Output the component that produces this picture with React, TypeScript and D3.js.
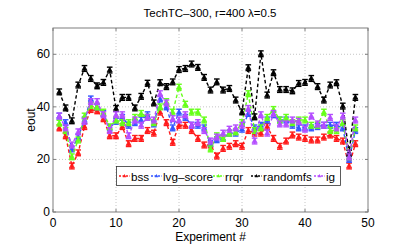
import { useEffect, useRef } from 'react';
import * as d3 from 'd3';

// experiment index 1..48
const experiments = d3.range(1, 49);

const bss = [32, 29, 17.5, 22.5, 32.5, 39, 38.5, 35.5, 29, 29, 32.5, 26, 28, 28, 31, 30, 38, 34, 26.5, 33, 33, 31, 28, 25.5, 25.5, 21.3, 24.2, 25, 26, 25, 31, 30, 30, 32.5, 28, 25, 27, 29.3, 28.5, 28, 27.4, 27.4, 28.5, 29.3, 28, 27, 17.5, 26];
const lvgScore = [36.5, 34, 24, 28.5, 35, 43, 40, 37.5, 32, 34.5, 36, 33, 34, 35, 37, 33.5, 43, 40, 32, 38, 36, 33, 33, 32, 26, 27.5, 28, 30, 30, 31.5, 37.5, 32, 33, 35, 37, 35, 35, 33, 32, 32, 32, 32.5, 33, 33, 33, 32, 20, 31];
const rrqr = [33.8, 31, 21, 27.4, 36.5, 40.5, 40, 38, 32.4, 35, 34, 34, 36, 37.5, 36, 34, 40, 42, 38, 47.5, 41, 38, 38, 35, 24, 29, 28, 30, 30.5, 34, 45, 31, 32, 36, 39, 35, 36, 34, 35, 35, 33, 33, 38, 31, 31, 34, 21, 32];
const randomfs = [45.7, 39.6, 34.7, 48.3, 54.6, 50.8, 48, 49.3, 54, 39.4, 43.6, 43.6, 39.6, 44, 49, 41.5, 49.2, 47.7, 49.5, 54.2, 54.6, 56.3, 55, 51.2, 46.4, 49.5, 46.4, 47, 42.6, 38.1, 54.9, 36.2, 60.2, 44.5, 53, 46.6, 46.6, 46.1, 48.9, 49.3, 50.8, 47.7, 42.6, 48.3, 49.2, 40.3, 22.4, 43.6];
const ig = [36.5, 32, 25.5, 30.5, 34.5, 42, 42, 37, 31, 37, 37, 29, 35, 33, 36, 35, 45, 41.5, 35.5, 35, 37, 33, 34, 31, 27, 28.5, 30, 31.5, 32, 33, 39.4, 27, 37, 30, 37.5, 33.5, 33.5, 35, 34.5, 31.5, 36.5, 33.5, 33, 36, 32, 36.5, 21, 35];

const seriesNames = ['bss', 'lvg\u2013score', 'rrqr', 'randomfs', 'ig'];
const seriesColors = ['#ff1a1a', '#3355ff', '#66ff1a', '#000000', '#b44dff'];
const seriesValues = [bss, lvgScore, rrqr, randomfs, ig];
const errHalf = 1.1;

const xTicks = [0, 10, 20, 30, 40, 50];
const yTicks = [0, 20, 40, 60];

export default function App() {
  const svgRef = useRef<SVGSVGElement>(null);

  useEffect(() => {
    if (!svgRef.current) return;
    d3.select(svgRef.current).selectAll('*').remove();

    const width = 407;
    const height = 245;
    const margin = { top: 28, right: 39, bottom: 33, left: 53 };
    const font = 'Liberation Sans, Arial, sans-serif';

    const svg = d3.select(svgRef.current)
      .attr('width', width)
      .attr('height', height);

    const x = d3.scaleLinear().domain([0, 50]).range([margin.left, width - margin.right]);
    const y = d3.scaleLinear().domain([0, 70]).range([height - margin.bottom, margin.top]);

    svg.append('rect')
      .attr('width', width)
      .attr('height', height)
      .attr('fill', '#ffffff');

    // grid
    const grid = svg.append('g')
      .attr('stroke', '#b8b8b8')
      .attr('stroke-width', 0.8)
      .attr('stroke-dasharray', '1,2');
    xTicks.slice(1, -1).forEach(t => {
      grid.append('line')
        .attr('x1', x(t)).attr('x2', x(t))
        .attr('y1', y(0)).attr('y2', y(70));
    });
    yTicks.slice(1).forEach(t => {
      grid.append('line')
        .attr('x1', x(0)).attr('x2', x(50))
        .attr('y1', y(t)).attr('y2', y(t));
    });

    // series
    const line = d3.line<number>()
      .x((_, i) => x(experiments[i]))
      .y(d => y(d));

    seriesValues.forEach((vals, s) => {
      const color = seriesColors[s];
      const g = svg.append('g');
      g.append('path')
        .datum(vals)
        .attr('d', line)
        .attr('fill', 'none')
        .attr('stroke', color)
        .attr('stroke-width', 1.4)
        .attr('stroke-dasharray', '3.5,2.5');

      vals.forEach((v, i) => {
        const cx = x(experiments[i]);
        const yTop = y(v + errHalf);
        const yBot = y(v - errHalf);
        g.append('line')
          .attr('x1', cx).attr('x2', cx)
          .attr('y1', yTop).attr('y2', yBot)
          .attr('stroke', color).attr('stroke-width', 1.4);
        [yTop, yBot].forEach(yy => {
          g.append('line')
            .attr('x1', cx - 2.8).attr('x2', cx + 2.8)
            .attr('y1', yy).attr('y2', yy)
            .attr('stroke', color).attr('stroke-width', 1.4);
        });
        const cy = y(v);
        g.append('path')
          .attr('d', `M${cx},${cy - 2.6}L${cx + 2.5},${cy + 1.8}L${cx - 2.5},${cy + 1.8}Z`)
          .attr('fill', color)
          .attr('stroke', color)
          .attr('stroke-width', 0.8);
      });
    });

    // axes box
    svg.append('rect')
      .attr('x', x(0)).attr('y', y(70))
      .attr('width', x(50) - x(0))
      .attr('height', y(0) - y(70))
      .attr('fill', 'none')
      .attr('stroke', '#7f7f7f')
      .attr('stroke-width', 1);

    const ticks = svg.append('g').attr('stroke', '#7f7f7f').attr('stroke-width', 1);
    xTicks.forEach(t => {
      ticks.append('line').attr('x1', x(t)).attr('x2', x(t)).attr('y1', y(0)).attr('y2', y(0) - 3);
      ticks.append('line').attr('x1', x(t)).attr('x2', x(t)).attr('y1', y(70)).attr('y2', y(70) + 3);
    });
    yTicks.forEach(t => {
      ticks.append('line').attr('x1', x(0)).attr('x2', x(0) + 3).attr('y1', y(t)).attr('y2', y(t));
      ticks.append('line').attr('x1', x(50)).attr('x2', x(50) - 3).attr('y1', y(t)).attr('y2', y(t));
    });

    // tick labels
    xTicks.forEach(t => {
      svg.append('text')
        .attr('x', x(t)).attr('y', y(0) + 15)
        .attr('text-anchor', 'middle')
        .attr('font-family', font).attr('font-size', 12)
        .text(t);
    });
    yTicks.forEach(t => {
      svg.append('text')
        .attr('x', x(0) - 3).attr('y', y(t) + 4)
        .attr('text-anchor', 'end')
        .attr('font-family', font).attr('font-size', 12)
        .text(t);
    });

    svg.append('text')
      .attr('x', (x(0) + x(50)) / 2).attr('y', 241)
      .attr('text-anchor', 'middle')
      .attr('font-family', font).attr('font-size', 12)
      .text('Experiment #');

    svg.append('text')
      .attr('transform', `translate(35,${(y(0) + y(70)) / 2}) rotate(-90)`)
      .attr('text-anchor', 'middle')
      .attr('font-family', font).attr('font-size', 12)
      .text('eout');

    svg.append('text')
      .attr('x', 210).attr('y', 17)
      .attr('text-anchor', 'middle')
      .attr('font-family', font).attr('font-size', 11.5)
      .text('TechTC\u2013300, r=400 \u03bb=0.5');

    // legend
    const lg = svg.append('g');
    lg.append('rect')
      .attr('x', 116.5).attr('y', 166.5)
      .attr('width', 224).attr('height', 19)
      .attr('fill', '#ffffff')
      .attr('stroke', '#333333')
      .attr('stroke-width', 0.8);
    const sampleStarts = [118, 150, 212, 250, 313];
    sampleStarts.forEach((sx, s) => {
      const color = seriesColors[s];
      lg.append('line')
        .attr('x1', sx + 1).attr('x2', sx + 12)
        .attr('y1', 176).attr('y2', 176)
        .attr('stroke', color).attr('stroke-width', 1.4)
        .attr('stroke-dasharray', '2,1.5');
      lg.append('path')
        .attr('d', `M${sx + 6.5},${174}L${sx + 8.3},${177.3}L${sx + 4.7},${177.3}Z`)
        .attr('fill', color);
      lg.append('text')
        .attr('x', sx + 13).attr('y', 180.5)
        .attr('font-family', font).attr('font-size', 11.7)
        .text(seriesNames[s]);
    });
  }, []);

  return (
    <svg ref={svgRef} style={{ position: 'absolute', left: 0, top: 0 }}></svg>
  );
}
